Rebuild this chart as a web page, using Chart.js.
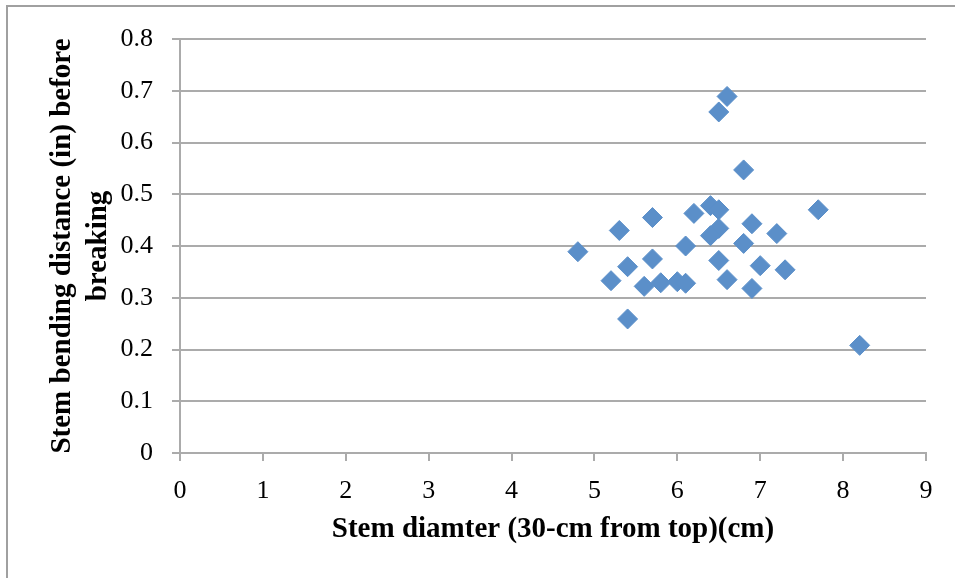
<!DOCTYPE html>
<html>
<head>
<meta charset="utf-8">
<script src="https://cdn.jsdelivr.net/npm/chart.js@4/dist/chart.umd.min.js"></script>
<style>
  html, body { margin: 0; padding: 0; background: #ffffff; }
  #wrap { position: relative; width: 955px; height: 578px; overflow: hidden; }
  #frame { position: absolute; left: 6px; top: 5px; width: 1000px; height: 1000px;
           border-left: 2px solid #a0a0a0; border-top: 2px solid #a0a0a0; }
  #chart { position: absolute; left: 0; top: 0; }
</style>
</head>
<body>
<div id="wrap">
  <div id="frame"></div>
  <canvas id="chart" width="955" height="578"></canvas>
</div>
<script>
"use strict";

// stem diameter (cm) measured 30 cm from the top
const stemDiameter = [
  6.6, 6.5, 6.8, 6.4, 6.5, 6.2, 5.7, 7.7, 5.3, 6.9,
  6.5, 6.4, 7.2, 6.8, 6.1, 4.8, 5.7, 6.5, 5.4, 7.0,
  7.3, 5.2, 6.6, 5.8, 6.0, 6.1, 5.6, 6.9, 5.4, 8.2
];

// bending distance (in) before breaking
const bendDistance = [
  0.689, 0.659, 0.547, 0.478, 0.470, 0.463, 0.455, 0.470, 0.430, 0.443,
  0.434, 0.420, 0.424, 0.405, 0.400, 0.389, 0.375, 0.372, 0.360, 0.362,
  0.354, 0.333, 0.335, 0.329, 0.331, 0.328, 0.322, 0.318, 0.259, 0.208
];

const xTitle = 'Stem diamter (30-cm from top)(cm)';
const yTitle = ['Stem bending distance (in) before', 'breaking'];

(() => {
  const canvas = document.getElementById('chart');

  const points = stemDiameter.map((x, i) => ({ x: x, y: bendDistance[i] }));

  const gridColor = '#ababab';
  const tickFont = { family: '"Liberation Serif", serif', size: 26 };
  const titleFont = { family: '"Liberation Serif", serif', size: 29, weight: 'bold', lineHeight: 1.25 };

  const config = {
    type: 'scatter',
    data: {
      datasets: [{
        data: points,
        pointStyle: 'rectRot',
        pointRadius: 10,
        pointHoverRadius: 10,
        backgroundColor: '#5b8fc9',
        borderColor: '#5b8fc9',
        borderWidth: 1
      }]
    },
    options: {
      responsive: false,
      animation: false,
      layout: {
        padding: { left: 0, right: 29, top: 39, bottom: 0 }
      },
      plugins: {
        legend: { display: false },
        tooltip: { enabled: false }
      },
      scales: {
        x: {
          type: 'linear',
          min: 0,
          max: 9,
          ticks: {
            stepSize: 1,
            color: '#000000',
            font: tickFont,
            padding: 15
          },
          grid: {
            drawOnChartArea: false,
            drawTicks: true,
            tickLength: 8,
            color: gridColor,
            lineWidth: 2
          },
          border: { color: gridColor, width: 2 },
          title: {
            display: true,
            text: xTitle,
            color: '#000000',
            font: titleFont,
            padding: { top: 10, bottom: 30 }
          },
          afterFit: (scale) => { scale.height = 125; }
        },
        y: {
          type: 'linear',
          min: 0,
          max: 0.8,
          ticks: {
            stepSize: 0.1,
            color: '#000000',
            font: tickFont,
            padding: 19,
            callback: (v) => (Math.round(v * 10) / 10).toString()
          },
          grid: {
            drawTicks: true,
            tickLength: 8,
            color: gridColor,
            lineWidth: 2
          },
          border: { color: gridColor, width: 2 },
          title: {
            display: true,
            text: yTitle,
            color: '#000000',
            font: titleFont,
            padding: { top: 44, bottom: 0 }
          },
          afterFit: (scale) => { scale.width = 180; }
        }
      }
    }
  };

  new Chart(canvas, config);
})();
</script>
</body>
</html>
